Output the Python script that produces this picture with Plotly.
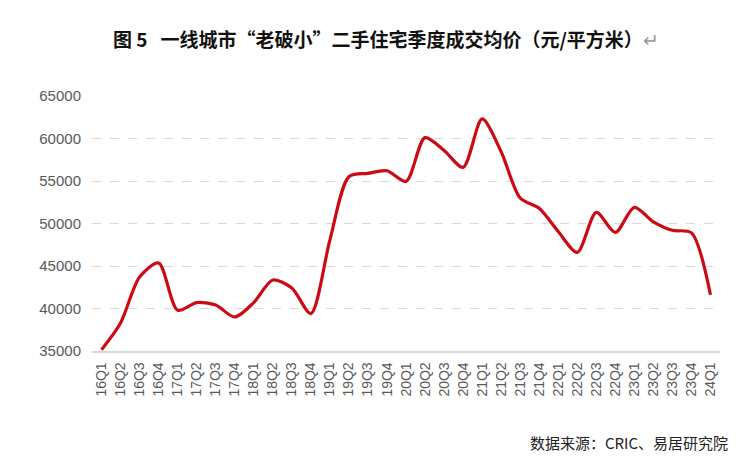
import plotly.graph_objects as go

quarters = ["16Q1", "16Q2", "16Q3", "16Q4", "17Q1", "17Q2", "17Q3", "17Q4",
            "18Q1", "18Q2", "18Q3", "18Q4", "19Q1", "19Q2", "19Q3", "19Q4",
            "20Q1", "20Q2", "20Q3", "20Q4", "21Q1", "21Q2", "21Q3", "21Q4",
            "22Q1", "22Q2", "22Q3", "22Q4", "23Q1", "23Q2", "23Q3", "23Q4",
            "24Q1"]

avg_price = [35150, 38300, 43700, 45350, 39800, 40700, 40400, 39000,
             40700, 43350, 42400, 39400, 48050, 55500, 55900, 56200,
             54950, 60100, 58600, 56600, 62300, 58450, 53000, 51800,
             49050, 46600, 51300, 48950, 51900, 50200, 49200, 48900,
             41600]

y_ticks = [35000, 40000, 45000, 50000, 55000, 60000, 65000]

# page body has an 8px margin, so the figure is a bit smaller than the window
fig = go.Figure()

fig.add_trace(go.Scatter(x=quarters,
                         y=avg_price,
                         mode="lines",
                         line=dict(color="#CC0A14", width=3.2, shape="spline", smoothing=0.8),
                         showlegend=False))

fig.update_layout(
    width=742,
    height=459,
    margin=dict(l=84, r=30, t=88, b=116),
    paper_bgcolor="white",
    plot_bgcolor="white",
    font=dict(family="Liberation Sans, Arial, sans-serif", color="#595959"),
    title=dict(
        text="图 5   一线城市“老破小”二手住宅季度成交均价（元/平方米）<span style='color:#999999;font-weight:normal'>↵</span>",
        x=0.1415, xref="container", xanchor="left",
        y=0.93, yref="container", yanchor="middle",
        font=dict(family="Noto Sans CJK SC", size=19, color="#111111", weight="bold"),
    ),
)

fig.update_xaxes(
    type="category",
    range=[-0.5, len(quarters) - 0.5],
    tickangle=-90,
    tickfont=dict(size=14, color="#595959"),
    showgrid=False,
    showline=True,
    linecolor="#D9D9D9",
    linewidth=1.5,
    ticks="",
    ticklabelstandoff=4,
)

fig.update_yaxes(
    range=[35000, 65000],
    tickvals=y_ticks,
    ticktext=[str(v) for v in y_ticks],
    tickfont=dict(size=15, color="#595959"),
    showgrid=True,
    gridcolor="#D9D9D9",
    griddash="dash",
    gridwidth=1,
    zeroline=False,
    showline=False,
    ticks="",
    ticklabelstandoff=10,
)

fig.add_annotation(
    text="数据来源：CRIC、易居研究院",
    xref="paper", yref="paper",
    x=1.016, y=-0.357,
    xanchor="right", yanchor="middle",
    showarrow=False,
    font=dict(family="Noto Sans CJK SC", size=15, color="#222222"),
)

fig.write_html("out.html")
